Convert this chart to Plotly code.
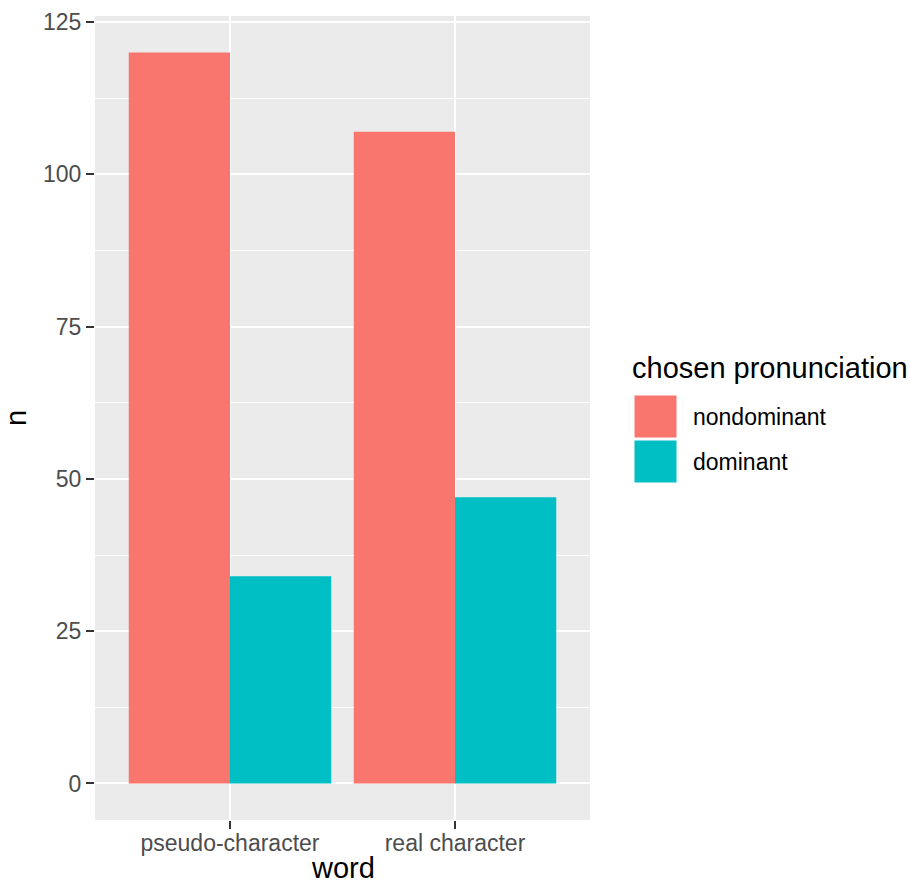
import plotly.graph_objects as go

words = ["pseudo-character", "real character"]
series_names = ["nondominant", "dominant"]
nondominant = [120, 107]
dominant = [34, 47]
colors = ["#F8766D", "#00BFC4"]
y_ticks = [0, 25, 50, 75, 100, 125]

FONT = "Liberation Sans, Arial, Helvetica, sans-serif"

fig = go.Figure()
for name, vals, col in zip(series_names, [nondominant, dominant], colors):
    fig.add_trace(go.Bar(x=words, y=vals, name=name, marker=dict(color=col, line=dict(width=0)),
                         showlegend=False))

W, H = 910, 885
L, R, T, B = 95, 320, 16, 65
pw, ph = W - L - R, H - T - B

def px(x):
    return (x - L) / pw

def py(y):
    return (H - B - y) / ph

fig.update_layout(
    width=W, height=H,
    margin=dict(l=L, r=R, t=T, b=B, autoexpand=False),
    paper_bgcolor="white",
    plot_bgcolor="#EBEBEB",
    barmode="group", bargap=0.1, bargroupgap=0,
    font=dict(family=FONT, size=23, color="#4D4D4D"),
    showlegend=False,
)
fig.update_xaxes(
    range=[-0.6, 1.6], showgrid=True, gridcolor="white", gridwidth=2,
    ticks="outside", ticklen=8, tickwidth=2, tickcolor="#333333",
    ticklabelstandoff=-6,
    tickfont=dict(size=23, color="#4D4D4D", family=FONT),
    zeroline=False, showline=False,
)
fig.update_yaxes(
    range=[-6, 126], tickvals=y_ticks, showgrid=True, gridcolor="white", gridwidth=2,
    minor=dict(tickvals=[12.5, 37.5, 62.5, 87.5, 112.5], showgrid=True, gridcolor="white", gridwidth=1, ticks=""),
    ticks="outside", ticklen=8, tickwidth=2, tickcolor="#333333",
    tickfont=dict(size=23, color="#4D4D4D", family=FONT),
    title=dict(text="n", font=dict(size=29, color="black", family=FONT), standoff=8),
    zeroline=False, showline=False,
)

# x-axis title placed as annotation for exact vertical position
fig.add_annotation(x=0.5, y=py(885), xref="paper", yref="paper", text="word",
                   showarrow=False, xanchor="center", yanchor="bottom", borderpad=0,
                   font=dict(size=29, color="black", family=FONT))

# legend drawn manually (ggplot-style large keys)
fig.add_annotation(x=px(630), y=py(368), xref="paper", yref="paper", text="chosen pronunciation",
                   showarrow=False, xanchor="left", yanchor="middle",
                   font=dict(size=29, color="black", family=FONT))
key_top = [395, 440]
for name, col, top in zip(series_names, colors, key_top):
    fig.add_shape(type="rect", xref="paper", yref="paper",
                  x0=px(634), x1=px(677), y0=py(top), y1=py(top + 43),
                  fillcolor=col, line=dict(width=1, color="white"))
    fig.add_annotation(x=px(691), y=py(top + 21.5), xref="paper", yref="paper", text=name,
                       showarrow=False, xanchor="left", yanchor="middle",
                       font=dict(size=23, color="black", family=FONT))

fig.write_html("out.html", config={"displayModeBar": False},
               post_script="document.body.style.margin='0';document.body.style.padding='0';")
